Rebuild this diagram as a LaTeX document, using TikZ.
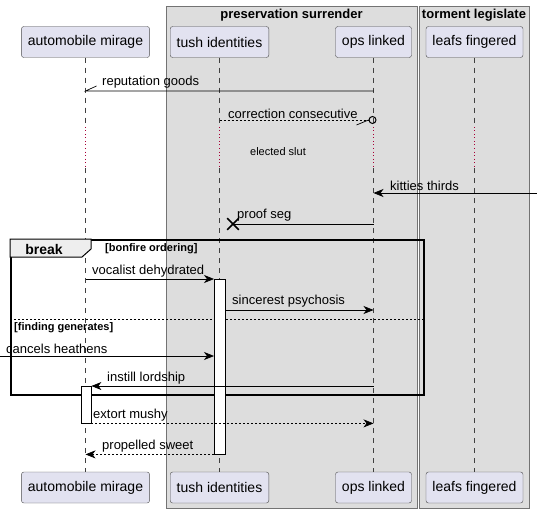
\documentclass[tikz,border=0pt]{standalone}
\usepackage{fontspec}
\setmainfont{Liberation Sans}
\usetikzlibrary{shapes,arrows,arrows.meta}
\definecolor{partfill}{HTML}{E2E2F0}
\definecolor{boxfill}{HTML}{DDDDDD}
\definecolor{tabfill}{HTML}{EEEEEE}
\definecolor{delayred}{HTML}{A80036}
\tikzstyle{participant} = [rectangle, draw=black!70, fill=partfill, rounded corners=2.5pt,
    minimum height=31pt, inner xsep=6.5pt, font=\fontsize{14}{16}\selectfont]
\tikzstyle{groupbox} = [draw=black!55, fill=boxfill]
\tikzstyle{grouptitle} = [font=\bfseries\fontsize{13}{15}\selectfont, inner sep=0pt]
\tikzstyle{lifeline} = [draw=black!75, line width=0.5pt, dash pattern=on 5pt off 5pt]
\tikzstyle{delay} = [draw=delayred, line width=0.8pt, dash pattern=on 1pt off 2.5pt]
\tikzstyle{msg} = [draw, line width=0.7pt, -{Stealth[length=10pt,width=8pt,inset=3pt]}]
\tikzstyle{reply} = [msg, dash pattern=on 2pt off 2pt]
\tikzstyle{msgtext} = [font=\fontsize{13}{15}\selectfont, anchor=west, inner sep=0pt]
\tikzstyle{guard} = [font=\bfseries\fontsize{11}{13}\selectfont, anchor=west, inner sep=0pt]
\tikzstyle{activation} = [rectangle, draw, fill=white, inner sep=0pt, anchor=north west]
\tikzstyle{frame} = [rectangle, draw, line width=1.5pt, inner sep=0pt, anchor=north west]

\begin{document}
\begin{tikzpicture}[x=1pt, y=-1pt]
 \useasboundingbox (0,0) rectangle (537,513);

 % boxes
 \path[groupbox] (166,6) rectangle (417,508);
 \path[groupbox] (419,6) rectangle (529,508);
 \node[grouptitle] (presTitle) at (291.5,15) {preservation surrender};
 \node[grouptitle] (tormTitle) at (474,15) {torment legislate};

 % participants
 \node[participant] (autoT) at (85.5,42) {automobile mirage};
 \node[participant] (tushT) at (219.5,42) {tush identities};
 \node[participant] (opsT) at (373.5,42) {ops linked};
 \node[participant] (leafT) at (474.5,42) {leafs fingered};
 \node[participant] (autoB) at (85.5,487.5) {automobile mirage};
 \node[participant] (tushB) at (219.5,487.5) {tush identities};
 \node[participant] (opsB) at (373.5,487.5) {ops linked};
 \node[participant] (leafB) at (474.5,487.5) {leafs fingered};

 % lifelines
 \path[lifeline] (autoT) -- (autoT |- 0,127) (autoT |- 0,168) -- (autoB);
 \path[lifeline] (tushT) -- (tushT |- 0,127) (tushT |- 0,168) -- (tushB);
 \path[lifeline] (opsT) -- (opsT |- 0,127) (opsT |- 0,168) -- (opsB);
 \path[lifeline] (leafT) -- (leafT |- 0,127) (leafT |- 0,168) -- (leafB);
 \path[delay] (autoT |- 0,127) -- (autoT |- 0,168);
 \path[delay] (tushT |- 0,127) -- (tushT |- 0,168);
 \path[delay] (opsT |- 0,127) -- (opsT |- 0,168);
 \path[delay] (leafT |- 0,127) -- (leafT |- 0,168);
 \node[font=\fontsize{11}{13}\selectfont, inner sep=0pt] (delayText) at (278,152) {elected slut};

 % break
 \node[frame, minimum width=413pt, minimum height=155pt] (breakFrame) at (10,239) {};
 \draw[fill=tabfill, line width=1pt] (breakFrame.north west) -- ++(81,0) -- ++(0,10)
   -- ++(-9,8) -- (breakFrame.north west |- 0,257) -- cycle;
 \node[font=\bfseries\fontsize{14}{16}\selectfont, inner sep=0pt] (breakText) at (44,249) {break};
 \node[guard] (bonfire) at (105,249) {[bonfire ordering]};
 \draw[line width=0.6pt, dash pattern=on 2pt off 2pt] (breakFrame.west |- 0,319) -- (breakFrame.east |- 0,319);
 \node[guard] (finding) at (14,328) {[finding generates]};

 % activations
 \node[activation, minimum width=11pt, minimum height=175pt] (tushAct) at (214,279) {};
 \node[activation, minimum width=10pt, minimum height=37pt] (autoAct) at (81,386) {};

 % messages
 \draw[line width=0.7pt] (opsT |- 0,91) -- (autoT |- 0,91) -- ++(11,-5);
 \node[msgtext] (m1) at (102,82.5) {reputation goods};

 \node[circle, draw, line width=1pt, minimum size=7pt, inner sep=0pt] (lost) at (372.5,120) {};
 \draw[line width=0.7pt, dash pattern=on 2pt off 2pt] (tushT |- lost) -- (lost.west);
 \draw[line width=0.7pt] (lost.west) -- ++(-12,5);
 \node[msgtext] (m2) at (228,113.5) {correction consecutive};

 \coordinate (rightEdge) at (537,193);
 \path[msg] (rightEdge) -- (opsT |- rightEdge);
 \node[msgtext] (m3) at (390,185.5) {kitties thirds};

 \node[cross out, draw, line width=1.6pt, minimum size=10pt, inner sep=0pt] (destroyed) at (233,224) {};
 \draw[line width=0.7pt] (opsT |- destroyed) -- (destroyed.center);
 \node[msgtext] (m4) at (237,215.5) {proof seg};

 \path[msg] (autoT |- tushAct.north) -- (tushAct.north west);
 \node[msgtext] (m5) at (92,271.5) {vocalist dehydrated};

 \path[msg] (tushAct.east |- 0,310) -- (opsT |- 0,310);
 \node[msgtext] (m6) at (232,301.5) {sincerest psychosis};

 \coordinate (leftEdge) at (0,356);
 \path[msg] (leftEdge) -- (tushAct.west |- leftEdge);
 \node[msgtext] (m7) at (6,348.5) {cancels heathens};

 \path[msg] (opsT |- autoAct.north) -- (autoAct.north east);
 \node[msgtext] (m8) at (107,378.5) {instill lordship};

 \path[reply] (autoAct.south east) -- (opsT |- autoAct.south);
 \node[msgtext] (m9) at (93,415.5) {extort mushy};

 \path[reply] (tushAct.south west) -- (autoT |- tushAct.south);
 \node[msgtext] (m10) at (102,446.5) {propelled sweet};
\end{tikzpicture}
\end{document}
